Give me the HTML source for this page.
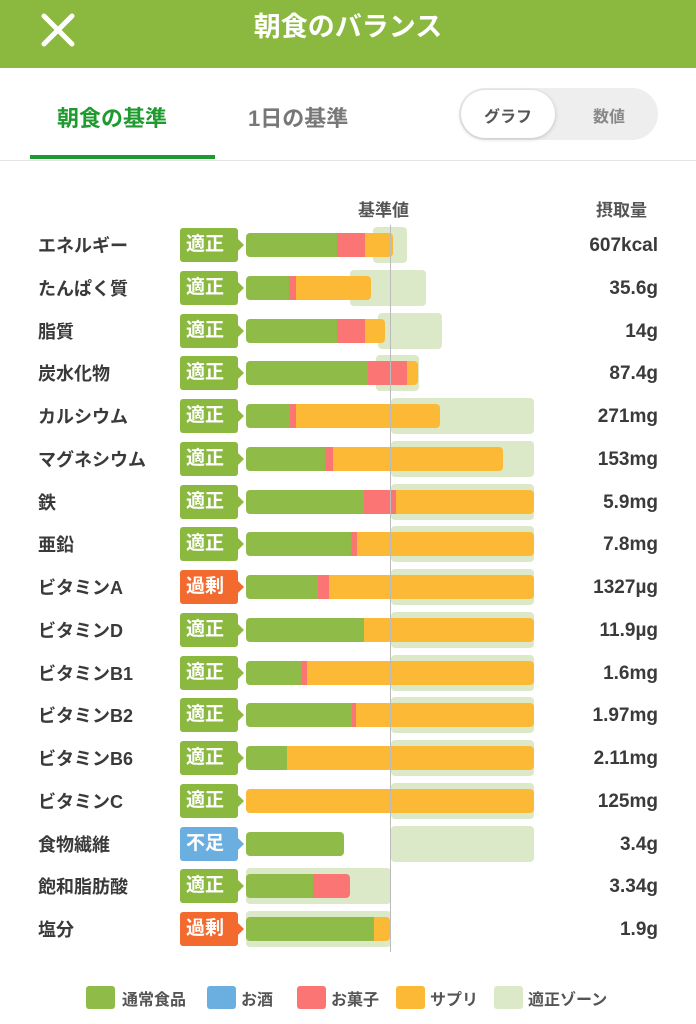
<!DOCTYPE html>
<html><head><meta charset="utf-8"><style>
*{margin:0;padding:0;box-sizing:border-box}
body{width:696px;height:1024px;background:#fff;font-family:"Liberation Sans","Noto Sans CJK JP",sans-serif;position:relative;overflow:hidden;color:#444}
.a{position:absolute}
.hdr{left:0;top:0;width:696px;height:68px;background:#8bb93f}
.lab{left:38px;font-size:18px;font-weight:bold;color:#3a3a3a;line-height:24px}
.val{right:38px;font-size:19px;font-weight:bold;color:#3a3a3a;line-height:24px;text-align:right}
.badge{left:180px;width:58px;height:34px;border-radius:3px;color:#fff;font-size:19px;font-weight:bold;line-height:34px;padding-left:6px}
.badge:after{content:"";position:absolute;right:-6px;top:10px;border-left:7px solid;border-left-color:inherit;border-top:7px solid transparent;border-bottom:7px solid transparent}
.zone{background:#dbe9c8;border-radius:4px;height:36px}
.bar{height:24px;border-radius:4px;overflow:hidden;display:flex}
.g{background:#8fbb48}.p{background:#fc7575}.o{background:#fbb935}
.leg{top:986px;width:29px;height:23px;border-radius:3px}
.lt{top:986px;font-size:16px;font-weight:bold;color:#555}
</style></head><body>
<div class="a hdr"></div>
<svg class="a" style="left:40px;top:12px" width="36" height="36"><path d="M4 4L32 32M32 4L4 32" stroke="#fff" stroke-width="5" stroke-linecap="round"/></svg>
<div class="a" style="left:0;width:696px;top:10px;text-align:center;color:#fff;font-size:27px;font-weight:bold;line-height:34px">朝食のバランス</div>
<div class="a" style="left:57px;top:101px;font-size:22px;font-weight:bold;color:#1f9a2e">朝食の基準</div>
<div class="a" style="left:30px;top:155px;width:185px;height:4px;background:#1f9a2e"></div>
<div class="a" style="left:248px;top:101px;font-size:22px;font-weight:bold;color:#777">1日の基準</div>
<div class="a" style="left:0;top:160px;width:696px;height:1px;background:#e4e4e4"></div>
<div class="a" style="left:459px;top:88px;width:199px;height:52px;border-radius:26px;background:#eee"></div>
<div class="a" style="left:461px;top:90px;width:94px;height:48px;border-radius:24px;background:#fff;box-shadow:0 1px 4px rgba(0,0,0,.2)"></div>
<div class="a" style="left:461px;top:103px;width:94px;text-align:center;font-size:16px;font-weight:bold;color:#555">グラフ</div>
<div class="a" style="left:560px;top:103px;width:98px;text-align:center;font-size:16px;font-weight:bold;color:#888">数値</div>
<div class="a" style="left:358px;top:196px;font-size:17px;font-weight:bold;color:#555">基準値</div>
<div class="a" style="left:596px;top:196px;font-size:17px;font-weight:bold;color:#555">摂取量</div>
<div id="rows"></div>
<div class="a" style="left:390px;top:225px;width:1px;height:727px;background:#bbb;z-index:5"></div>
<div class="a leg" style="left:86px;background:#8fbb48"></div><div class="a lt" style="left:122px">通常食品</div>
<div class="a leg" style="left:207px;background:#6bafe0"></div><div class="a lt" style="left:241px">お酒</div>
<div class="a leg" style="left:297px;background:#fc7575"></div><div class="a lt" style="left:331px">お菓子</div>
<div class="a leg" style="left:396px;background:#fbb935"></div><div class="a lt" style="left:430px">サプリ</div>
<div class="a leg" style="left:494px;background:#dbe9c8"></div><div class="a lt" style="left:528px">適正ゾーン</div>
<script>
var R=[
["エネルギー","適正","607kcal",373,407,337,365,393],
["たんぱく質","適正","35.6g",350,426,289,296,371],
["脂質","適正","14g",378,442,337,365,385],
["炭水化物","適正","87.4g",376,419,368,407,418],
["カルシウム","適正","271mg",391,534,290,296,440],
["マグネシウム","適正","153mg",391,534,325,333,503],
["鉄","適正","5.9mg",391,534,364,396,534],
["亜鉛","適正","7.8mg",391,534,351,357,534],
["ビタミンA","過剰","1327µg",391,534,318,329,534],
["ビタミンD","適正","11.9µg",391,534,364,364,534],
["ビタミンB1","適正","1.6mg",391,534,301,307,534],
["ビタミンB2","適正","1.97mg",391,534,352,356,534],
["ビタミンB6","適正","2.11mg",391,534,287,287,534],
["ビタミンC","適正","125mg",391,534,246,246,534],
["食物繊維","不足","3.4g",391,534,344,344,344],
["飽和脂肪酸","適正","3.34g",246,391,313,350,350],
["塩分","過剰","1.9g",246,391,374,374,390]];
var h="";
R.forEach(function(r,i){
var c=245+i*42.75,t=c-12;
var bc=r[1]=="過剰"?"#f26a2e":r[1]=="不足"?"#6bafe0":"#8bb93f";
h+='<div class="a lab" style="top:'+(c-11)+'px">'+r[0]+'</div>';
h+='<div class="a val" style="top:'+(c-11)+'px">'+r[2]+'</div>';
h+='<div class="a badge" style="top:'+(c-17)+'px;background:'+bc+';border-color:'+bc+'">'+r[1]+'</div>';
h+='<div class="a zone" style="top:'+(c-18)+'px;left:'+r[3]+'px;width:'+(r[4]-r[3])+'px"></div>';
h+='<div class="a bar" style="top:'+t+'px;left:246px;width:'+(r[7]-246)+'px"><div class="g" style="width:'+(r[5]-246)+'px"></div><div class="p" style="width:'+(r[6]-r[5])+'px"></div><div class="o" style="flex:1"></div></div>';
});
document.getElementById("rows").innerHTML=h;
</script>
</body></html>
